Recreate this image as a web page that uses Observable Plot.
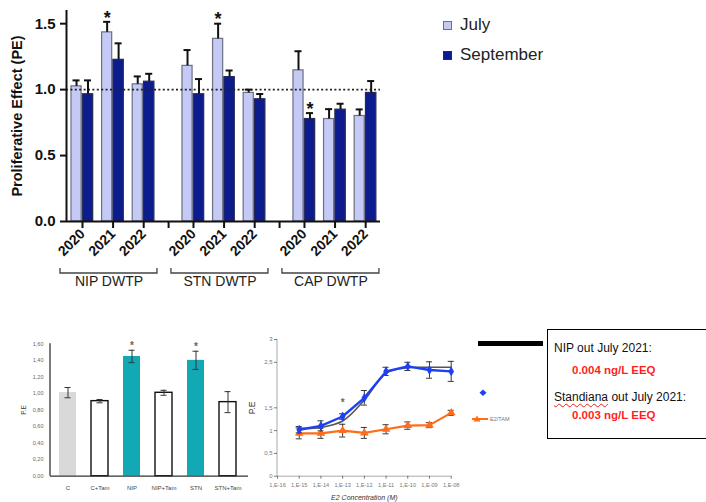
<!DOCTYPE html>
<html><head><meta charset="utf-8">
<script src="https://cdn.jsdelivr.net/npm/d3@7"></script>
<script src="https://cdn.jsdelivr.net/npm/@observablehq/plot@0.6"></script>
<style>
html,body{margin:0;padding:0;background:#fff;width:706px;height:502px;overflow:hidden;font-family:"Liberation Sans",Arial,sans-serif}
.abs{position:absolute}
#top g[aria-label$="tick label"] text{font-weight:bold}
.leg{position:absolute;font-size:17px;color:#222;line-height:1}
.sw{position:absolute;width:7px;height:7px}
#box{position:absolute;left:547px;top:329px;width:170px;height:110px;border:1.5px solid #000;box-sizing:border-box}
#box div{position:absolute;white-space:nowrap;line-height:1}
.blk{font-size:12px;color:#111}
.red{font-size:11.5px;font-weight:bold;color:#ff1f1f}
.wavy{text-decoration:underline wavy #e02020;text-decoration-thickness:1px;text-underline-offset:2px}
</style></head><body>
<div id="top" class="abs" style="left:0;top:0"></div>
<div id="bl" class="abs" style="left:0;top:320px"></div>
<div id="bm" class="abs" style="left:240px;top:320px"></div>
<div id="leg"></div>
<div class="abs" style="left:478px;top:341px;width:65px;height:5px;background:#000"></div>
<div id="box">
  <div class="blk" style="left:6px;top:12px">NIP out July 2021:</div>
  <div class="red" style="left:24px;top:35px">0.004 ng/L EEQ</div>
  <div class="blk" style="left:6px;top:61px"><span class="wavy">Standiana</span> out July 2021:</div>
  <div class="red" style="left:24px;top:80px">0.003 ng/L EEQ</div>
</div>
<script>
// ---------- Top chart data ----------
const sites = ["NIP", "STN", "CAP"];
const siteLabels = ["NIP DWTP", "STN DWTP", "CAP DWTP"];
const years = ["2020", "2021", "2022"];
const months = ["July", "September"];
const julyPE  = [1.025, 1.434, 1.04, 1.18, 1.385, 0.975, 1.146, 0.777, 0.80];
const julyErr = [0.045, 0.08, 0.06, 0.12, 0.115, 0.025, 0.145, 0.075, 0.05];
const septPE  = [0.965, 1.226, 1.06, 0.965, 1.095, 0.927, 0.777, 0.848, 0.975];
const septErr = [0.105, 0.125, 0.06, 0.115, 0.05, 0.04, 0.045, 0.045, 0.09];
const julyStar = [0, 1, 0, 0, 1, 0, 0, 0, 0];
const septStar = [0, 0, 0, 0, 0, 0, 1, 0, 0];
const topTicksY = [0, 0.5, 1, 1.5];

// ---------- Bottom-left chart data ----------
const treatments = ["C", "C+Tam", "NIP", "NIP+Tam", "STN", "STN+Tam"];
const treatPE  = [1.01, 0.907, 1.447, 1.008, 1.40, 0.895];
const treatErr = [0.062, 0.02, 0.075, 0.03, 0.11, 0.127];
const treatStar = [0, 0, 1, 0, 1, 0];
const treatKind = ["control", "tam", "sample", "tam", "sample", "tam"];
const blTicks = [0, 0.2, 0.4, 0.6, 0.8, 1.0, 1.2, 1.4, 1.6];

// ---------- Bottom-middle chart data ----------
const concExp = [-15, -14, -13, -12, -11, -10, -9, -8];
const axisExp = [-16, -15, -14, -13, -12, -11, -10, -9, -8];
const e2PE   = [1.02, 1.105, 1.31, 1.72, 2.30, 2.41, 2.33, 2.30];
const e2Err  = [0.07, 0.11, 0.06, 0.16, 0.09, 0.09, 0.18, 0.22];
const fitPE  = [1.05, 1.07, 1.21, 1.67, 2.26, 2.38, 2.39, 2.39];
const tamPE  = [0.94, 0.94, 1.0, 0.95, 1.03, 1.11, 1.12, 1.39];
const tamErr = [0.12, 0.11, 0.14, 0.12, 0.1, 0.08, 0.055, 0.055];
const bmTicksY = [0, 0.5, 1, 1.5, 2.5, 3];
const starExp = -13;

const SVGNS = "http://www.w3.org/2000/svg";
function leftLine(y1, y2, stroke, sw) {
  return (index, scales, values, dims) => {
    const el = document.createElementNS(SVGNS, "line");
    const x = dims.marginLeft;
    el.setAttribute("x1", x); el.setAttribute("x2", x);
    el.setAttribute("y1", scales.y(y1)); el.setAttribute("y2", scales.y(y2));
    el.setAttribute("stroke", stroke); el.setAttribute("stroke-width", sw);
    return el;
  };
}

// ===== Top chart =====
const groupStep = 3.627;
const xMin = -0.523, xMax = 9.739;
const topRows = [];
sites.forEach((site, g) => years.forEach((yr, i) => {
  const k = g * years.length + i, pos = g * groupStep + i;
  topRows.push({site, year: yr, pos, month: "July", v: julyPE[k], e: julyErr[k], star: julyStar[k]});
  topRows.push({site, year: yr, pos, month: "September", v: septPE[k], e: septErr[k], star: septStar[k]});
}));
const barOff = {July: [-0.36, -0.03], September: [0.01, 0.35]};
const errOff = {July: -0.195, September: 0.18};
const capHalf = 0.115;
const monthFill = {July: "#c4caf5", September: "#0c1c8e"};
const monthStroke = {July: "#6c7080", September: "#262b52"};
const labelByPos = new Map(topRows.filter(d => d.month === "July").map(d => [d.pos, d.year]));
const gapTicks = [1, 2].map(g => g * groupStep - (groupStep - 2) / 2);
const xTicks = [...labelByPos.keys(), ...gapTicks];
const groups = sites.map((s, g) => ({label: siteLabels[g], first: g * groupStep, last: g * groupStep + 2}));

function brackets(index, scales, values, dims) {
  const g = document.createElementNS(SVGNS, "g");
  const yb = dims.height - dims.marginBottom + 52;
  groups.forEach(gr => {
    const p = document.createElementNS(SVGNS, "path");
    const a = scales.x(gr.first - 0.72), b = scales.x(gr.last + 0.45);
    p.setAttribute("d", `M${a},${yb - 5}V${yb}H${b}V${yb - 5}`);
    p.setAttribute("fill", "none"); p.setAttribute("stroke", "#444"); p.setAttribute("stroke-width", 1.3);
    g.appendChild(p);
  });
  return g;
}

const topPlot = Plot.plot({
  width: 381, height: 300,
  marginLeft: 66, marginRight: 1, marginTop: 10, marginBottom: 79,
  style: {fontFamily: "Liberation Sans, Arial, sans-serif", color: "#111", background: "transparent", overflow: "visible"},
  x: {type: "linear", domain: [xMin, xMax]},
  y: {domain: [0, 1.6]},
  marks: [
    ...months.map(m => Plot.rectY(topRows.filter(d => d.month === m), {
      x1: d => d.pos + barOff[m][0], x2: d => d.pos + barOff[m][1], y: "v",
      fill: monthFill[m], stroke: monthStroke[m], strokeWidth: 1.2
    })),
    Plot.ruleY([1], {stroke: "#222", strokeWidth: 1.6, strokeDasharray: "2,2.4"}),
    Plot.ruleX(topRows, {x: d => d.pos + errOff[d.month], y1: "v", y2: d => d.v + d.e, stroke: "#111", strokeWidth: 2}),
    Plot.ruleY(topRows, {x1: d => d.pos + errOff[d.month] - capHalf, x2: d => d.pos + errOff[d.month] + capHalf, y: d => d.v + d.e, stroke: "#111", strokeWidth: 2}),
    Plot.text(topRows.filter(d => d.star), {x: d => d.pos + errOff[d.month], y: d => d.v + d.e, text: () => "*", fontSize: 18, fontWeight: "bold", dy: -4, fill: "#111"}),
    Plot.ruleY([0], {stroke: "#111", strokeWidth: 2}),
    Plot.ruleX([xMin], {y1: 0, y2: 1.6, stroke: "#111", strokeWidth: 2}),
    Plot.axisY({ticks: topTicksY, tickFormat: d3.format(".1f"), tickSize: 6, tickPadding: 5, fontSize: 15, fontWeight: "bold", strokeWidth: 2, label: null}),
    Plot.axisX({ticks: xTicks, tickFormat: d => labelByPos.get(d) ?? "", tickRotate: -45, tickSize: 7, tickPadding: 3, fontSize: 14, fontWeight: "bold", strokeWidth: 2, label: null}),
    Plot.text(groups, {x: d => (d.first - 0.72 + d.last + 0.45) / 2, text: "label", frameAnchor: "bottom", dy: 64, fontSize: 14, fill: "#222"}),
    Plot.text(["Proliferative Effect (PE)"], {frameAnchor: "left", textAnchor: "middle", dx: -49, rotate: -90, fontSize: 14.5, fontWeight: "bold", fill: "#111"}),
    brackets
  ]
});
document.getElementById("top").appendChild(topPlot);

// top legend
const leg = document.getElementById("leg");
months.forEach((m, i) => {
  const y = 21 + i * 29.5;
  const sw = document.createElement("div");
  sw.className = "sw";
  sw.style.left = "443px"; sw.style.top = y + "px";
  sw.style.background = monthFill[m]; sw.style.border = "1px solid " + monthStroke[m];
  leg.appendChild(sw);
  const t = document.createElement("div");
  t.className = "leg"; t.textContent = m;
  t.style.left = "460px"; t.style.top = (y - 5) + "px";
  leg.appendChild(t);
});

// ===== Bottom-left chart =====
const blRows = treatments.map((t, i) => ({t, v: treatPE[i], e: treatErr[i], star: treatStar[i], kind: treatKind[i]}));
const kindFill = {control: "#d9d9d9", tam: "#ffffff", sample: "#12a9b4"};
const kindStroke = {control: "none", tam: "#111", sample: "none"};
const blPlot = Plot.plot({
  width: 250, height: 182,
  marginLeft: 50, marginRight: 2, marginTop: 23.3, marginBottom: 26.3,
  style: {fontFamily: "Liberation Sans, Arial, sans-serif", color: "#666", background: "transparent", overflow: "visible"},
  x: {type: "band", domain: treatments, range: [50, 244.5], paddingInner: 0.475, paddingOuter: 0.2375},
  y: {domain: [0, 1.6]},
  marks: [
    Plot.barY(blRows, {x: "t", y: "v", fill: d => kindFill[d.kind], stroke: d => kindStroke[d.kind], strokeWidth: 1.4}),
    Plot.ruleX(blRows, {x: "t", y1: d => d.v - d.e, y2: d => d.v + d.e, stroke: "#333", strokeWidth: 1}),
    Plot.tickY(blRows, {x: "t", y: d => d.v + d.e, stroke: "#333", strokeWidth: 1, insetLeft: 5.5, insetRight: 5.5}),
    Plot.tickY(blRows, {x: "t", y: d => d.v - d.e, stroke: "#333", strokeWidth: 1, insetLeft: 5.5, insetRight: 5.5}),
    Plot.text(blRows.filter(d => d.star), {x: "t", y: d => d.v + d.e, text: () => "*", fontSize: 10, fontWeight: "bold", fill: "#666", dy: -4}),
    Plot.ruleY([0], {stroke: "#333", strokeWidth: 1.2}),
    leftLine(0, 1.6, "#222", 1.2),
    Plot.axisY({ticks: blTicks, tickFormat: d => d.toFixed(2).replace(".", ","), tickSize: 0, tickPadding: 7, fontSize: 5.5, label: null}),
    Plot.axisX({tickSize: 0, tickPadding: 10, fontSize: 6, fill: "#444", label: null}),
    Plot.text(["P.E"], {frameAnchor: "left", textAnchor: "middle", dx: -27, rotate: -90, fontSize: 6.5, fill: "#444"})
  ]
});
document.getElementById("bl").appendChild(blPlot);

// ===== Bottom-middle chart =====
const bmRows = concExp.map((ex, i) => ({c: Math.pow(10, ex), e2: e2PE[i], e2e: e2Err[i], fit: fitPE[i], tam: tamPE[i], tame: tamErr[i]}));
const expLabel = d => "1,E-" + String(Math.round(-Math.log10(d))).padStart(2, "0");
const capF = Math.pow(10, 0.14);
const capRules = (yf) => Plot.ruleY(bmRows, {x1: d => d.c / capF, x2: d => d.c * capF, y: yf, stroke: "#222", strokeWidth: 0.9});
const bmPlot = Plot.plot({
  width: 260, height: 182,
  marginLeft: 37, marginRight: 49.3, marginTop: 19, marginBottom: 26.3,
  style: {fontFamily: "Liberation Sans, Arial, sans-serif", color: "#777", background: "transparent", overflow: "visible"},
  x: {type: "log", domain: [1e-16, 1e-8]},
  y: {domain: [0, 3]},
  marks: [
    Plot.ruleY([0], {stroke: "#aaa", strokeWidth: 1}),
    leftLine(0, 3, "#aaa", 1),
    Plot.axisY({ticks: bmTicksY, tickFormat: d => String(d).replace(".", ","), tickSize: 3, tickPadding: 2, fontSize: 6, label: null}),
    Plot.axisX({ticks: axisExp.map(e => Math.pow(10, e)), tickFormat: expLabel, tickSize: 3, tickPadding: 4, fontSize: 5.6, label: null}),
    Plot.ruleX(bmRows, {x: "c", y1: d => d.tam - d.tame, y2: d => d.tam + d.tame, stroke: "#222", strokeWidth: 0.9}),
    capRules(d => d.tam + d.tame),
    capRules(d => d.tam - d.tame),
    Plot.line(bmRows, {x: "c", y: "tam", stroke: "#ff6d1a", strokeWidth: 2.2}),
    Plot.dot(bmRows, {x: "c", y: "tam", symbol: "triangle", r: 3.2, fill: "#ff6d1a"}),
    Plot.ruleX(bmRows, {x: "c", y1: d => d.e2 - d.e2e, y2: d => d.e2 + d.e2e, stroke: "#222", strokeWidth: 0.9}),
    capRules(d => d.e2 + d.e2e),
    capRules(d => d.e2 - d.e2e),
    Plot.line(bmRows, {x: "c", y: "fit", stroke: "#555", strokeWidth: 1.6, curve: "catmull-rom"}),
    Plot.line(bmRows, {x: "c", y: "e2", stroke: "#1f3ff2", strokeWidth: 2.4}),
    Plot.dot(bmRows, {x: "c", y: "e2", symbol: "diamond", r: 3, fill: "#1f3ff2"}),
    Plot.text([starExp], {x: d => Math.pow(10, d), y: d => bmRows.find(r => r.c === Math.pow(10, d)).e2 + 0.3, text: () => "*", fontSize: 10, fontWeight: "bold", fill: "#666"}),
    Plot.text(["P.E"], {frameAnchor: "left", textAnchor: "middle", dx: -25, rotate: -90, fontSize: 8.5, fill: "#333"}),
    Plot.text(["E2 Concentration (M)"], {frameAnchor: "bottom", dy: 24, fontSize: 7, fontStyle: "italic", fill: "#333"})
  ]
});
document.getElementById("bm").appendChild(bmPlot);
</script>
<div class="abs" style="left:466px;top:385px">
<svg width="60" height="45" style="overflow:visible">
  <path d="M17,4.5 L20.5,7.7 L17,10.9 L13.5,7.7Z" fill="#1f3ff2"/>
  <line x1="6" x2="22" y1="34" y2="34" stroke="#ff6d1a" stroke-width="2"/>
  <path d="M11,30.5 L14.5,36.5 L7.5,36.5Z" fill="#ff6d1a"/>
  <text x="24" y="36" font-size="5.5" fill="#777" font-family="Liberation Sans, Arial">E2/TAM</text>
</svg>
</div>
</body></html>
